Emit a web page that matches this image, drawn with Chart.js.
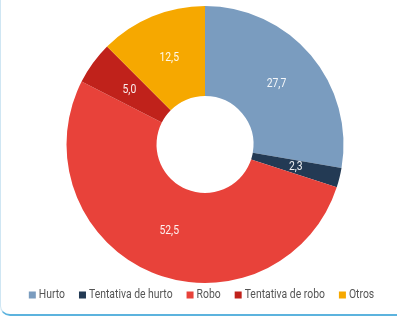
<!DOCTYPE html>
<html>
<head>
<meta charset="utf-8">
<script src="https://cdn.jsdelivr.net/npm/chart.js@4.4.1/dist/chart.umd.min.js"></script>
<style>
  html, body { margin: 0; padding: 0; background: #fff; }
  #frame {
    position: absolute; left: 0; top: -10px; width: 410px; height: 326px;
    border-left: 1px solid #cfe6f3; border-bottom: 2px solid #5cb3de;
    border-bottom-left-radius: 10px; box-sizing: border-box;
  }
  #wrap { position: absolute; left: 0; top: 0; width: 397px; height: 320px; }
</style>
</head>
<body>
<div id="frame"></div>
<div id="wrap"><canvas id="chart"></canvas></div>
<script>
// data
const categories = ['Hurto', 'Tentativa de hurto', 'Robo', 'Tentativa de robo', 'Otros'];
const values = [27.7, 2.3, 52.5, 5.0, 12.5];
const colors = ['#7a9cbf', '#233a54', '#e8423a', '#c0221b', '#f6a800'];

const font = 'Roboto, sans-serif';
const squeeze = 0.8; // narrow look of the original font

// draws text squeezed horizontally
const narrowText = (ctx, text, x, y, align) => {
  ctx.save();
  ctx.translate(x, y);
  ctx.scale(squeeze, 1);
  ctx.textAlign = align;
  ctx.fillText(text, 0, 0);
  ctx.restore();
};

// white value labels in the middle of each slice
const sliceLabels = {
  id: 'sliceLabels',
  afterDatasetsDraw(chart) {
    const ctx = chart.ctx;
    const meta = chart.getDatasetMeta(0);
    ctx.save();
    ctx.font = '13px ' + font;
    ctx.fillStyle = 'rgba(255,255,255,0.92)';
    ctx.textBaseline = 'middle';
    meta.data.forEach((arc, i) => {
      const p = arc.getCenterPoint();
      narrowText(ctx, values[i].toFixed(1).replace('.', ','), p.x, p.y, 'center');
    });
    ctx.restore();
  }
};

// legend in one row under the doughnut, narrow text
const narrowLegend = {
  id: 'narrowLegend',
  afterDraw(chart) {
    const ctx = chart.ctx;
    const items = Chart.overrides.doughnut.plugins.legend.labels.generateLabels(chart);
    const box = 7, boxGap = 3, itemGap = 14;
    ctx.save();
    ctx.font = '13px ' + font;
    ctx.textBaseline = 'middle';
    const widths = items.map(it => box + boxGap + ctx.measureText(it.text).width * squeeze);
    const total = widths.reduce((a, b) => a + b, 0) + itemGap * (items.length - 1);
    let x = chart.width / 2 + 3 - total / 2;
    const y = chart.chartArea.bottom + 12;
    items.forEach((it, i) => {
      ctx.fillStyle = it.fillStyle;
      ctx.fillRect(x, y - box / 2, box, box);
      ctx.fillStyle = '#555';
      narrowText(ctx, it.text, x + box + boxGap, y, 'left');
      x += widths[i] + itemGap;
    });
    ctx.restore();
  }
};

new Chart(document.getElementById('chart'), {
  type: 'doughnut',
  data: {
    labels: categories,
    datasets: [{
      data: values,
      backgroundColor: colors,
      borderWidth: 0
    }]
  },
  plugins: [sliceLabels, narrowLegend],
  options: {
    responsive: true,
    maintainAspectRatio: false,
    animation: false,
    cutout: '35%',
    layout: { padding: { top: 6, bottom: 37, left: 13, right: 0 } },
    plugins: {
      tooltip: { enabled: false },
      legend: { display: false }
    }
  }
});
</script>
</body>
</html>
